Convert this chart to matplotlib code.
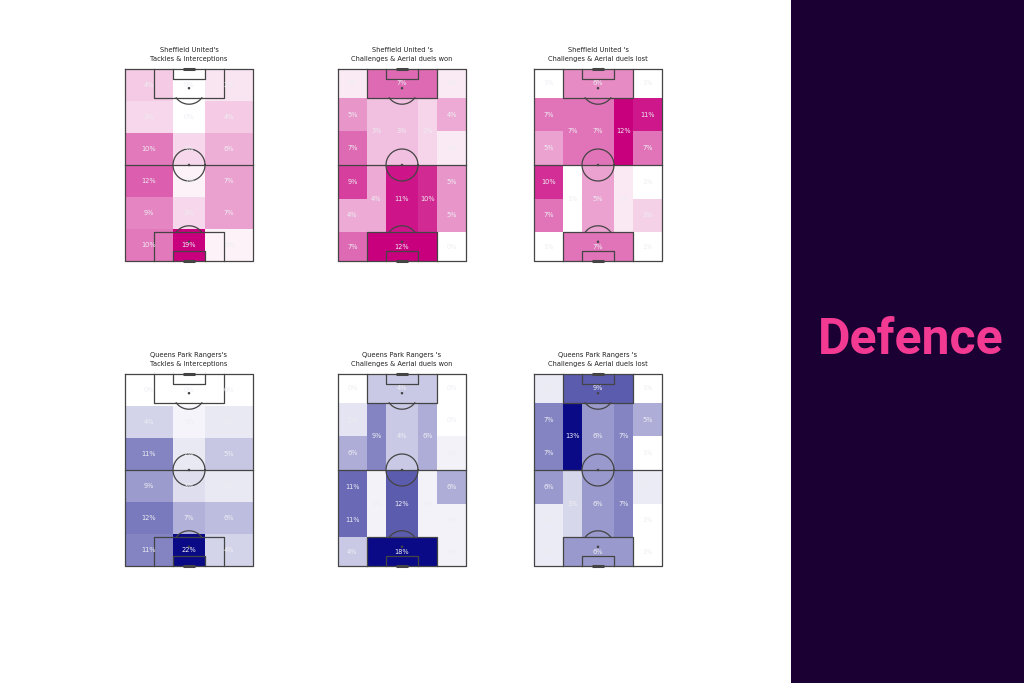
import numpy as np
import matplotlib
matplotlib.use("Agg")
import matplotlib.pyplot as plt
from matplotlib.colors import LinearSegmentedColormap, Normalize
from matplotlib.patches import Rectangle, Circle

# ---------------- DATA ----------------
titles = [
    "Sheffield United's\nTackles & Interceptions",
    "Sheffield United 's\nChallenges & Aerial duels won",
    "Sheffield United 's\nChallenges & Aerial duels lost",
    "Queens Park Rangers's\nTackles & Interceptions",
    "Queens Park Rangers 's\nChallenges & Aerial duels won",
    "Queens Park Rangers 's\nChallenges & Aerial duels lost",
]

# 6 rows (top -> bottom) x 3 columns (left -> right), percentages
shu_tackles = [[4, 0, 2],
               [3, 0, 4],
               [10, 3, 6],
               [12, 1, 7],
               [9, 3, 7],
               [10, 19, 1]]
qpr_tackles = [[0, 0, 0],
               [4, 1, 2],
               [11, 2, 5],
               [9, 3, 2],
               [12, 7, 6],
               [11, 22, 4]]

# positional zones order:
# top: LW, box, RW | upper half: LW1, LW2, LHS, C, RHS, RW1, RW2 |
# lower half: LW3, LW4, LHS, C, RHS, RW3, RW4 | bottom: LW, box, RW
zone_names = ["top_lw", "top_box", "top_rw",
              "u_lw1", "u_lw2", "u_lhs", "u_c", "u_rhs", "u_rw1", "u_rw2",
              "l_lw1", "l_lw2", "l_lhs", "l_c", "l_rhs", "l_rw1", "l_rw2",
              "bot_lw", "bot_box", "bot_rw"]
shu_won = [1, 7, 1,
           5, 7, 3, 3, 2, 4, 1,
           9, 4, 4, 11, 10, 5, 5,
           7, 12, 0]
shu_lost = [1, 6, 1,
            7, 5, 7, 7, 12, 11, 7,
            10, 7, 1, 5, 2, 1, 3,
            1, 7, 1]
qpr_won = [0, 4, 0,
           2, 6, 9, 4, 6, 0, 1,
           11, 11, 1, 12, 1, 6, 1,
           4, 18, 1]
qpr_lost = [2, 9, 1,
            7, 7, 13, 6, 7, 5, 1,
            6, 2, 3, 6, 7, 2, 1,
            2, 6, 1]

# ---------------- STYLE / GEOMETRY ----------------
W, L = 80, 120
grid_len_edges = [0, 20, 40, 60, 80, 100, 120]
grid_wid_edges = [0, 30, 50, 80]
zone_geom = {  # (x0, x1, y0, y1) in (width, length) pitch units, y from top
    "top_lw": (0, 18, 0, 18), "top_box": (18, 62, 0, 18), "top_rw": (62, 80, 0, 18),
    "u_lw1": (0, 18, 18, 39), "u_lw2": (0, 18, 39, 60), "u_lhs": (18, 30, 18, 60),
    "u_c": (30, 50, 18, 60), "u_rhs": (50, 62, 18, 60), "u_rw1": (62, 80, 18, 39),
    "u_rw2": (62, 80, 39, 60),
    "l_lw1": (0, 18, 60, 81), "l_lw2": (0, 18, 81, 102), "l_lhs": (18, 30, 60, 102),
    "l_c": (30, 50, 60, 102), "l_rhs": (50, 62, 60, 102), "l_rw1": (62, 80, 60, 81),
    "l_rw2": (62, 80, 81, 102),
    "bot_lw": (0, 18, 102, 120), "bot_box": (18, 62, 102, 120), "bot_rw": (62, 80, 102, 120),
}

pink = LinearSegmentedColormap.from_list("pink", ["#ffffff", "#c8007e"])
blue = LinearSegmentedColormap.from_list("blue", ["#ffffff", "#0a0a87"])
LINE = "#444444"
LBL = "#eeeef3"

FW, FH = 1024, 683
fig = plt.figure(figsize=(FW / 100, FH / 100), dpi=100)
fig.patch.set_facecolor("white")

# right panel
fig.patches.append(Rectangle((791 / FW, 0), (FW - 791) / FW, 1, transform=fig.transFigure,
                             facecolor="#1a0033", edgecolor="none", zorder=0))
fig.text(911 / FW, 1 - 340 / FH, "Defence", color="#f23a93", fontsize=36,
         fontweight="bold", family=["Roboto", "DejaVu Sans"], ha="center", va="center")

pitch_px = [(125, 69), (338, 69), (534, 69), (125, 374), (338, 374), (534, 374)]
PW, PH = 128, 192


def draw_pitch(ax):
    kw = dict(color=LINE, lw=0.9, zorder=3, clip_on=False)
    ax.plot([0, W, W, 0, 0], [0, 0, L, L, 0], **kw)
    ax.plot([0, W], [60, 60], **kw)
    t = np.linspace(0, 2 * np.pi, 200)
    ax.plot(40 + 10 * np.cos(t), 60 + 10 * np.sin(t), **kw)
    for y0, sgn in ((0, 1), (L, -1)):
        ax.plot([18, 18, 62, 62], [y0, y0 + sgn * 18, y0 + sgn * 18, y0], **kw)
        ax.plot([30, 30, 50, 50], [y0, y0 + sgn * 6, y0 + sgn * 6, y0], **kw)
        ax.plot([36, 44], [y0, y0], color=LINE, lw=2.2, zorder=3, clip_on=False,
                solid_capstyle="butt")
        spot = y0 + sgn * 12
        ax.add_patch(Circle((40, spot), 0.35, color=LINE, zorder=3))
        ta = np.linspace(np.radians(36.87), np.radians(143.13), 60)
        ax.plot(40 + 10 * np.cos(ta), spot + sgn * 10 * np.sin(ta), **kw)
    ax.add_patch(Circle((40, 60), 0.35, color=LINE, zorder=3))


def cell(ax, x0, x1, y0, y1, v, cmap, norm):
    ax.add_patch(Rectangle((x0, y0), x1 - x0, y1 - y0, facecolor=cmap(norm(v)),
                           edgecolor="none", zorder=1))
    ax.text((x0 + x1) / 2, (y0 + y1) / 2, f"{v}%", color=LBL, fontsize=4.8,
            ha="center", va="center", zorder=4)


datasets = [("grid", shu_tackles, pink), ("pos", shu_won, pink), ("pos", shu_lost, pink),
            ("grid", qpr_tackles, blue), ("pos", qpr_won, blue), ("pos", qpr_lost, blue)]

for (px, py), title, (kind, data, cmap) in zip(pitch_px, titles, datasets):
    ax = fig.add_axes([px / FW, 1 - (py + PH) / FH, PW / FW, PH / FH])
    ax.set_xlim(0, W)
    ax.set_ylim(L, 0)
    ax.axis("off")
    arr = np.array(data)
    norm = Normalize(arr.min(), arr.max())
    if kind == "grid":
        for r in range(6):
            for c in range(3):
                cell(ax, grid_wid_edges[c], grid_wid_edges[c + 1],
                     grid_len_edges[r], grid_len_edges[r + 1], data[r][c], cmap, norm)
    else:
        for name, v in zip(zone_names, data):
            x0, x1, y0, y1 = zone_geom[name]
            cell(ax, x0, x1, y0, y1, v, cmap, norm)
    draw_pitch(ax)
    fig.text((px + PW / 2) / FW, 1 - (py - 7) / FH, title, fontsize=4.8, color="#222222",
             ha="center", va="bottom", linespacing=1.5)

fig.savefig("out.png", dpi=100)
